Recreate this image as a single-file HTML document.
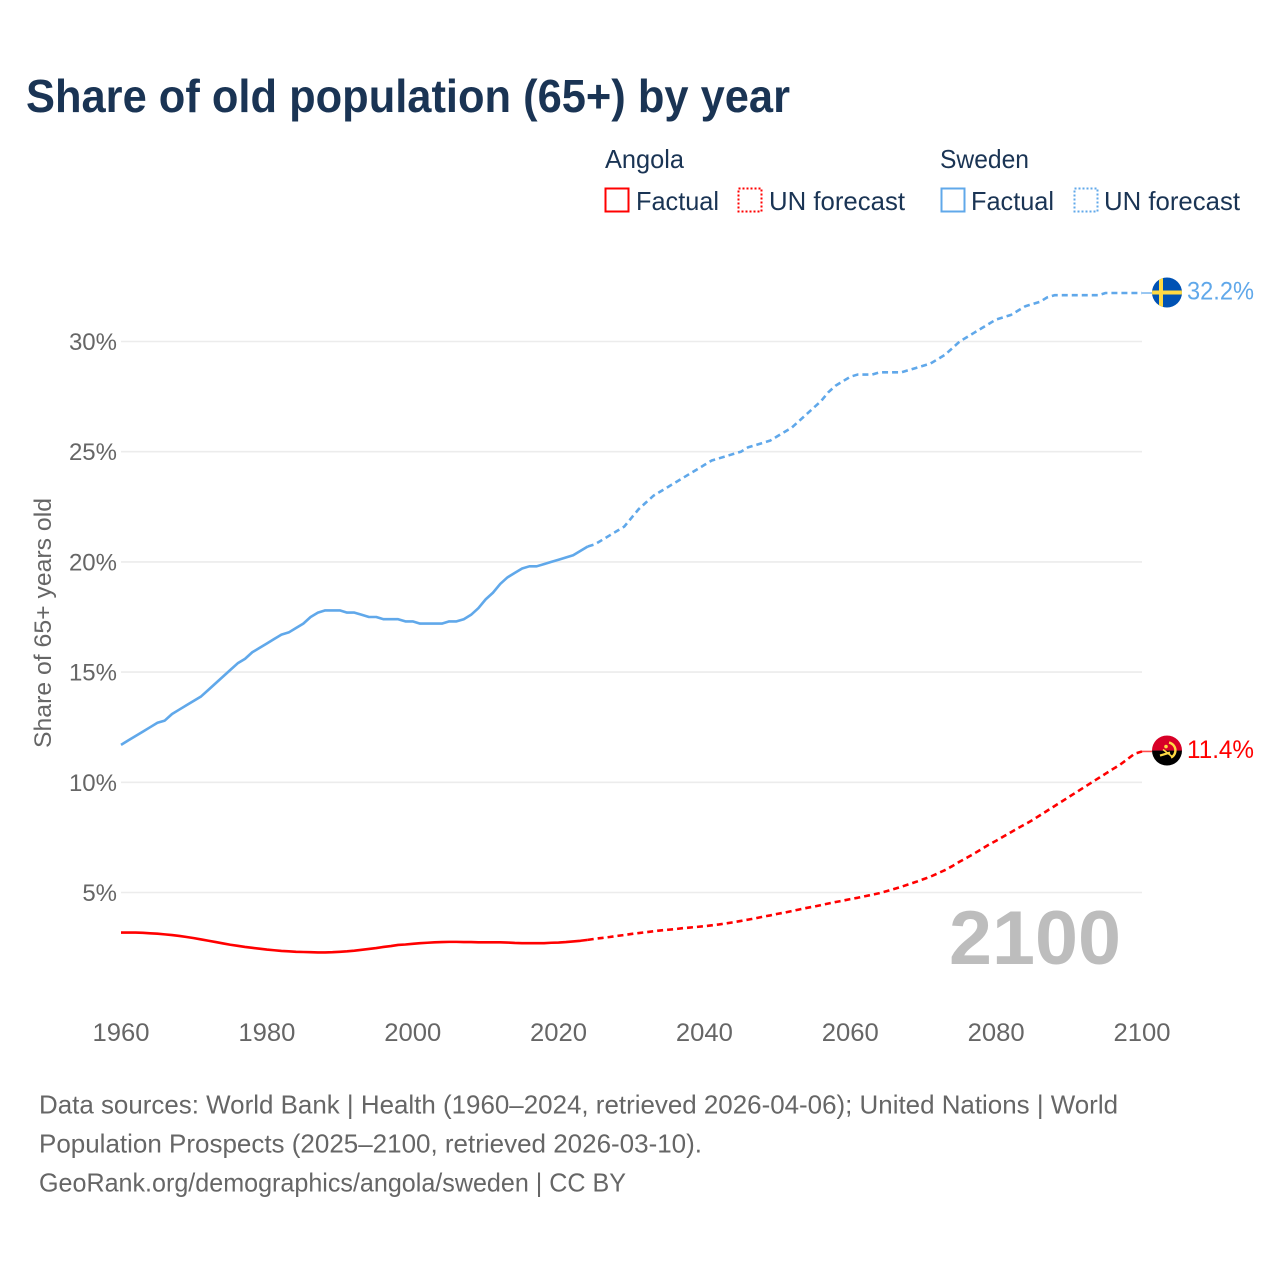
<!DOCTYPE html>
<html lang="en">
<head>
<meta charset="utf-8">
<title>Share of old population (65+) by year</title>
<style>
html,body{margin:0;padding:0;background:#fff;}
svg{display:block;font-family:"Liberation Sans",sans-serif;}
</style>
</head>
<body>
<svg id="chart" xmlns="http://www.w3.org/2000/svg" width="1280" height="1280" viewBox="0 0 1280 1280">
  <defs>
    <clipPath id="clip-se"><circle cx="0" cy="0" r="15"/></clipPath>
    <clipPath id="clip-ao"><circle cx="0" cy="0" r="15"/></clipPath>
  </defs>
  <rect width="1280" height="1280" fill="#ffffff"/>
  <text x="26" y="112" font-size="46" font-weight="700" fill="#1a3454" textLength="764" lengthAdjust="spacingAndGlyphs">Share of old population (65+) by year</text>

  <g font-size="26" fill="#1a3454">
    <text x="605" y="168" textLength="79" lengthAdjust="spacingAndGlyphs">Angola</text>
    <text x="940" y="168" textLength="89" lengthAdjust="spacingAndGlyphs">Sweden</text>
    <rect x="605.5" y="188.5" width="23" height="23" fill="none" stroke="#ff0000" stroke-width="2"/>
    <text x="636" y="210" textLength="83" lengthAdjust="spacingAndGlyphs">Factual</text>
    <rect x="738.5" y="188.5" width="23" height="23" fill="none" stroke="#ff0000" stroke-width="2" stroke-dasharray="2 2"/>
    <text x="769" y="210" textLength="136" lengthAdjust="spacingAndGlyphs">UN forecast</text>
    <rect x="941.5" y="188.5" width="23" height="23" fill="none" stroke="#60a8ea" stroke-width="2"/>
    <text x="971" y="210" textLength="83" lengthAdjust="spacingAndGlyphs">Factual</text>
    <rect x="1074.5" y="188.5" width="23" height="23" fill="none" stroke="#60a8ea" stroke-width="2" stroke-dasharray="2 2"/>
    <text x="1104" y="210" textLength="136" lengthAdjust="spacingAndGlyphs">UN forecast</text>
  </g>

  <g id="grid"></g>
  <g id="yticks" font-size="24" fill="#666666" text-anchor="end"></g>
  <g id="xticks" font-size="25" fill="#666666" text-anchor="middle"></g>
  <text transform="translate(51,748) rotate(-90)" font-size="24" fill="#666666" textLength="250" lengthAdjust="spacingAndGlyphs">Share of 65+ years old</text>

  <text x="949" y="964" font-size="76" font-weight="700" fill="#bdbdbd" textLength="172" lengthAdjust="spacingAndGlyphs">2100</text>

  <g id="series"></g>

  <g id="flag-se">
    <g clip-path="url(#clip-se)">
      <rect x="-15" y="-15" width="30" height="30" fill="#0052b4"/>
      <rect x="-8" y="-15" width="4" height="30" fill="#ffda44"/>
      <rect x="-15" y="-2" width="30" height="4" fill="#ffda44"/>
    </g>
  </g>
  <g id="flag-ao">
    <g clip-path="url(#clip-ao)">
      <rect x="-15" y="-15" width="30" height="15" fill="#d80027"/>
      <rect x="-15" y="0" width="30" height="15" fill="#000000"/>
      <path d="M2 -8 A8 8 0 0 1 4 7" fill="none" stroke="#ffda44" stroke-width="2.4"/>
      <path d="M-7 5 L3 2" fill="none" stroke="#ffda44" stroke-width="2.2"/>
      <path d="M-4 -1 L5 6" fill="none" stroke="#ffda44" stroke-width="1.6"/>
      <circle cx="-1" cy="-4" r="1.8" fill="#ffda44"/>
    </g>
  </g>

  <text id="label-se" x="1187" font-size="25" fill="#60a8ea" textLength="67" lengthAdjust="spacingAndGlyphs"></text>
  <text id="label-ao" x="1187" font-size="25" fill="#ff0000" textLength="67" lengthAdjust="spacingAndGlyphs"></text>

  <g font-size="26" fill="#666666">
    <text x="39" y="1113.5" textLength="1079" lengthAdjust="spacingAndGlyphs">Data sources: World Bank | Health (1960–2024, retrieved 2026-04-06); United Nations | World</text>
    <text x="39" y="1152.5" textLength="663" lengthAdjust="spacingAndGlyphs">Population Prospects (2025–2100, retrieved 2026-03-10).</text>
    <text x="39" y="1191.5" textLength="587" lengthAdjust="spacingAndGlyphs">GeoRank.org/demographics/angola/sweden | CC BY</text>
  </g>
</svg>

<script>
const factualStartYear = 1960;
const forecastStartYear = 2025;
const xTickYears = [1960, 1980, 2000, 2020, 2040, 2060, 2080, 2100];
const yTickValues = [5, 10, 15, 20, 25, 30];

const swedenFactual = [
  11.7,11.9,12.1,12.3,12.5,12.7,12.8,13.1,13.3,13.5,
  13.7,13.9,14.2,14.5,14.8,15.1,15.4,15.6,15.9,16.1,
  16.3,16.5,16.7,16.8,17.0,17.2,17.5,17.7,17.8,17.8,
  17.8,17.7,17.7,17.6,17.5,17.5,17.4,17.4,17.4,17.3,
  17.3,17.2,17.2,17.2,17.2,17.3,17.3,17.4,17.6,17.9,
  18.3,18.6,19.0,19.3,19.5,19.7,19.8,19.8,19.9,20.0,
  20.1,20.2,20.3,20.5,20.7
];
const swedenForecast = [
  20.8,21.0,21.2,21.4,21.6,22.0,22.4,22.7,23.0,23.2,
  23.4,23.6,23.8,24.0,24.2,24.4,24.6,24.7,24.8,24.9,
  25.0,25.2,25.3,25.4,25.5,25.7,25.9,26.1,26.4,26.7,
  27.0,27.3,27.7,28.0,28.2,28.4,28.5,28.5,28.5,28.6,
  28.6,28.6,28.6,28.7,28.8,28.9,29.0,29.2,29.4,29.7,
  30.0,30.2,30.4,30.6,30.8,31.0,31.1,31.2,31.4,31.6,
  31.7,31.8,32.0,32.1,32.1,32.1,32.1,32.1,32.1,32.1,
  32.2,32.2,32.2,32.2,32.2,32.2
];
const angolaFactual = [
  3.18,3.18,3.18,3.17,3.15,3.13,3.10,3.07,3.03,2.98,
  2.93,2.87,2.81,2.75,2.69,2.63,2.58,2.53,2.49,2.45,
  2.41,2.38,2.35,2.33,2.31,2.30,2.29,2.28,2.28,2.29,
  2.31,2.33,2.36,2.40,2.44,2.48,2.53,2.57,2.62,2.64,
  2.67,2.70,2.72,2.74,2.75,2.76,2.76,2.75,2.75,2.74,
  2.74,2.74,2.74,2.73,2.71,2.70,2.70,2.70,2.70,2.72,
  2.73,2.75,2.78,2.81,2.85
];
const angolaForecast = [
  2.90,2.94,2.98,3.03,3.07,3.12,3.16,3.20,3.24,3.28,
  3.31,3.34,3.38,3.41,3.44,3.47,3.51,3.55,3.60,3.65,
  3.71,3.77,3.83,3.90,3.96,4.03,4.09,4.16,4.23,4.30,
  4.36,4.43,4.50,4.57,4.63,4.70,4.76,4.83,4.90,4.97,
  5.06,5.16,5.26,5.37,5.48,5.60,5.72,5.87,6.02,6.20,
  6.40,6.58,6.77,6.97,7.17,7.35,7.54,7.73,7.92,8.10,
  8.29,8.50,8.71,8.92,9.13,9.34,9.55,9.76,9.97,10.18,
  10.39,10.60,10.80,11.05,11.30,11.40
];

const SVG_NS = 'http://www.w3.org/2000/svg';
function xScale(year) { return 121 + (year - 1960) * (1142 - 121) / 140; }
function yScale(v) { return 1002.7 - v * 22.04; }

const gridGroup = document.getElementById('grid');
const yGroup = document.getElementById('yticks');
yTickValues.forEach(function (v) {
  const line = document.createElementNS(SVG_NS, 'line');
  
  
  line.setAttribute('x1', xScale(1960));
  line.setAttribute('x2', xScale(2100));
  line.setAttribute('y1', yScale(v));
  line.setAttribute('y2', yScale(v));
  line.setAttribute('stroke', '#ececec');
  line.setAttribute('stroke-width', '1.6');
  gridGroup.appendChild(line);

  const label = document.createElementNS(SVG_NS, 'text');
  
  
  label.setAttribute('x', 117);
  label.setAttribute('y', yScale(v) + 8.5);
  label.textContent = v + '%';
  yGroup.appendChild(label);
});

const xGroup = document.getElementById('xticks');
xTickYears.forEach(function (year) {
  const label = document.createElementNS(SVG_NS, 'text');
  
  
  label.setAttribute('x', xScale(year));
  label.setAttribute('y', 1041);
  label.setAttribute('textLength', 57);
  label.setAttribute('lengthAdjust', 'spacingAndGlyphs');
  label.textContent = year;
  xGroup.appendChild(label);
});

function pointsFrom(values, startYear) {
  return values.map(function (v, i) {
    return xScale(startYear + i).toFixed(2) + ',' + yScale(v).toFixed(2);
  });
}

const seriesGroup = document.getElementById('series');
function addLine(pts, color, dash, width, name, opacity) {
  const poly = document.createElementNS(SVG_NS, 'polyline');
  
  
  poly.setAttribute('points', pts.join(' '));
  poly.setAttribute('fill', 'none');
  poly.setAttribute('stroke', color);
  poly.setAttribute('stroke-width', width);
  poly.setAttribute('stroke-linejoin', 'round');
  if (dash) poly.setAttribute('stroke-dasharray', dash);
  if (opacity) poly.setAttribute('stroke-opacity', opacity);
  seriesGroup.appendChild(poly);
}

const blue = '#60a8ea';
const red = '#ff0000';

const seFact = pointsFrom(swedenFactual, factualStartYear);
const seFore = pointsFrom(swedenForecast, forecastStartYear);
const aoFact = pointsFrom(angolaFactual, factualStartYear);
const aoFore = pointsFrom(angolaForecast, forecastStartYear);

const seLast = swedenForecast[swedenForecast.length - 1];
const aoLast = angolaForecast[angolaForecast.length - 1];

addLine(seFact, blue, null, 2.6, 'sweden-factual-line');
addLine([seFact[seFact.length - 1]].concat(seFore), blue, '6 4', 2.6, 'sweden-forecast-line');
addLine(aoFact, red, null, 2.6, 'angola-factual-line');
addLine([aoFact[aoFact.length - 1]].concat(aoFore), red, '6 4', 2.6, 'angola-forecast-line');
addLine([xScale(2100) + ',' + yScale(seLast), (xScale(2100) + 10) + ',' + yScale(seLast)], blue, null, 1.6, 'sweden-flag-connector', 0.8);
addLine([xScale(2100) + ',' + yScale(aoLast), (xScale(2100) + 10) + ',' + yScale(aoLast)], red, null, 1.6, 'angola-flag-connector', 0.7);

document.getElementById('flag-se').setAttribute('transform', 'translate(1167,' + (yScale(seLast) - 0.5) + ')');
document.getElementById('flag-ao').setAttribute('transform', 'translate(1167,' + (yScale(aoLast) - 0.9) + ')');

const labelSe = document.getElementById('label-se');
labelSe.setAttribute('y', yScale(seLast) + 6.5);
labelSe.textContent = seLast.toFixed(1) + '%';
const labelAo = document.getElementById('label-ao');
labelAo.setAttribute('y', yScale(aoLast) + 6.5);
labelAo.textContent = aoLast.toFixed(1) + '%';
</script>
</body>
</html>
